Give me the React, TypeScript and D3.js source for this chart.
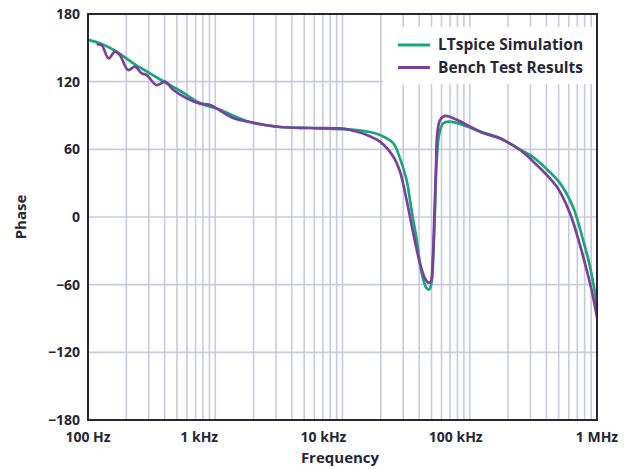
import React from "react";
import * as d3 from "d3";

// ---- data ----
const simFreq = [100, 124, 168, 227, 307, 415, 561, 759, 1090, 1870, 3230, 5560, 9560, 13000, 16400, 19700, 25100, 28300, 31900, 33900, 36000, 38300, 40600, 43200, 45900, 48100, 50200, 51800, 53300, 55000, 57700, 62000, 70000, 127000, 173000, 248000, 297000, 390000, 512000, 647000, 776000, 865000, 947000, 1000000];
const simPhase = [157, 154, 146.6, 136.3, 127.4, 118.6, 110.2, 101, 95, 84.2, 79.8, 78.9, 78, 77.1, 75.4, 72.7, 65.3, 52, 32.8, 15.1, -2.7, -20.4, -41.1, -55.9, -63.2, -64.1, -57.4, -32.2, 6.2, 50.5, 74.2, 83.1, 84.5, 75, 70, 60, 55, 44, 30, 9, -20, -40, -62, -79];

const benchFreq = [117, 128, 145, 163, 178, 207, 234, 264, 289, 346, 403, 468, 596, 759, 910, 1380, 1870, 3230, 5560, 9560, 11500, 15600, 19700, 25100, 28300, 31900, 36000, 40600, 44500, 47300, 49300, 51200, 52700, 54300, 55600, 58500, 64000, 127000, 173000, 248000, 297000, 482000, 613000, 735000, 834000, 912000, 1000000];
const benchPhase = [153, 152.5, 140.7, 146.6, 143.6, 130.3, 133.3, 127.4, 125.9, 117, 120, 112.6, 105.3, 100.5, 99.3, 87.8, 84.2, 79.8, 78.9, 78.5, 77.1, 72.7, 66.8, 53.5, 40.2, 15.1, -14.4, -41.1, -54.4, -58.2, -57.4, -38.1, 0.3, 44.6, 74.2, 86, 89.6, 74.5, 69.5, 59.4, 52, 27, 3.3, -25, -48, -66, -89];

const xTickValues = [100, 1000, 10000, 100000, 1000000];
const xTickLabels = ["100 Hz", "1 kHz", "10 kHz", "100 kHz", "1 MHz"];
const xLabelNudge = [0, -16, -19, -14, 0];
const yTickValues = [-180, -120, -60, 0, 60, 120, 180];
const seriesNames = ["LTspice Simulation", "Bench Test Results"];

const W = 631, H = 469;
const L = 88, R = 597, T = 14, B = 420;
const GREEN = "#19a67a";
const PURPLE = "#7b3f9e";
const INK = "#262637";
const GRID = "#c9cbdb";
const FONT = "'Open Sans', Roboto, sans-serif";

export default function App() {
  const x = d3.scaleLog().domain([100, 1e6]).range([L, R]);
  const y = d3.scaleLinear().domain([-180, 180]).range([B, T]);

  const minorTicks: number[] = [];
  for (let dec = 100; dec < 1e6; dec *= 10) {
    for (let m = 2; m <= 10; m++) {
      const v = dec * m;
      if (v < 1e6) minorTicks.push(v);
    }
  }

  const line = d3
    .line<[number, number]>()
    .x((d) => x(d[0]))
    .y((d) => y(d[1]))
    .curve(d3.curveCatmullRom.alpha(0.5));

  const simPts = simFreq.map((f, i) => [f, simPhase[i]] as [number, number]);
  const benchPts = benchFreq.map((f, i) => [f, benchPhase[i]] as [number, number]);

  const fmtY = (v: number) => (v < 0 ? "\u2212" + Math.abs(v) : String(v));

  return (
    <svg
      width={W}
      height={H}
      style={{ position: "absolute", left: 0, top: 0, background: "#fff" }}
      fontFamily={FONT}
    >
      <rect x={0} y={0} width={W} height={H} fill="#fff" />
      {/* grid */}
      {minorTicks.map((v) => (
        <line key={"v" + v} x1={x(v)} x2={x(v)} y1={T} y2={B} stroke={GRID} strokeWidth={1.6} />
      ))}
      {yTickValues
        .filter((v) => v > -180 && v < 180)
        .map((v) => (
          <line key={"h" + v} x1={L} x2={R} y1={y(v)} y2={y(v)} stroke={GRID} strokeWidth={1.6} />
        ))}
      {/* legend background */}
      <rect x={383} y={27} width={R - 383} height={57} fill="#fff" />
      {/* curves */}
      <path d={line(simPts) || ""} fill="none" stroke={GREEN} strokeWidth={2.7} strokeLinejoin="round" />
      <path d={line(benchPts) || ""} fill="none" stroke={PURPLE} strokeWidth={2.7} strokeLinejoin="round" />
      {/* frame */}
      <rect x={L} y={T} width={R - L} height={B - T} fill="none" stroke={INK} strokeWidth={2} />
      {/* y ticks */}
      {yTickValues.map((v) => (
        <text
          key={"yl" + v}
          x={80}
          y={y(v)}
          dy="0.35em"
          textAnchor="end"
          fontSize={14}
          fontWeight={700}
          fill={INK}
        >
          {fmtY(v)}
        </text>
      ))}
      {/* x ticks */}
      {xTickValues.map((v, i) => (
        <text
          key={"xl" + v}
          x={x(v) + xLabelNudge[i]}
          y={437}
          dy="0.35em"
          textAnchor="middle"
          fontSize={14}
          fontWeight={700}
          fill={INK}
        >
          {xTickLabels[i]}
        </text>
      ))}
      {/* axis titles */}
      <text x={340} y={458} dy="0.35em" textAnchor="middle" fontSize={15} fontWeight={700} fill={INK}>
        Frequency
      </text>
      <text
        transform={`translate(21,${(T + B) / 2}) rotate(-90)`}
        dy="0.35em"
        textAnchor="middle"
        fontSize={15}
        fontWeight={700}
        fill={INK}
      >
        Phase
      </text>
      {/* legend */}
      {seriesNames.map((name, i) => (
        <g key={name}>
          <line
            x1={398}
            x2={430}
            y1={45 + i * 22.5}
            y2={45 + i * 22.5}
            stroke={i === 0 ? GREEN : PURPLE}
            strokeWidth={3}
          />
          <text x={438} y={45 + i * 22.5} dy="0.35em" fontSize={15.5} fontWeight={700} fill={INK}>
            {name}
          </text>
        </g>
      ))}
    </svg>
  );
}
